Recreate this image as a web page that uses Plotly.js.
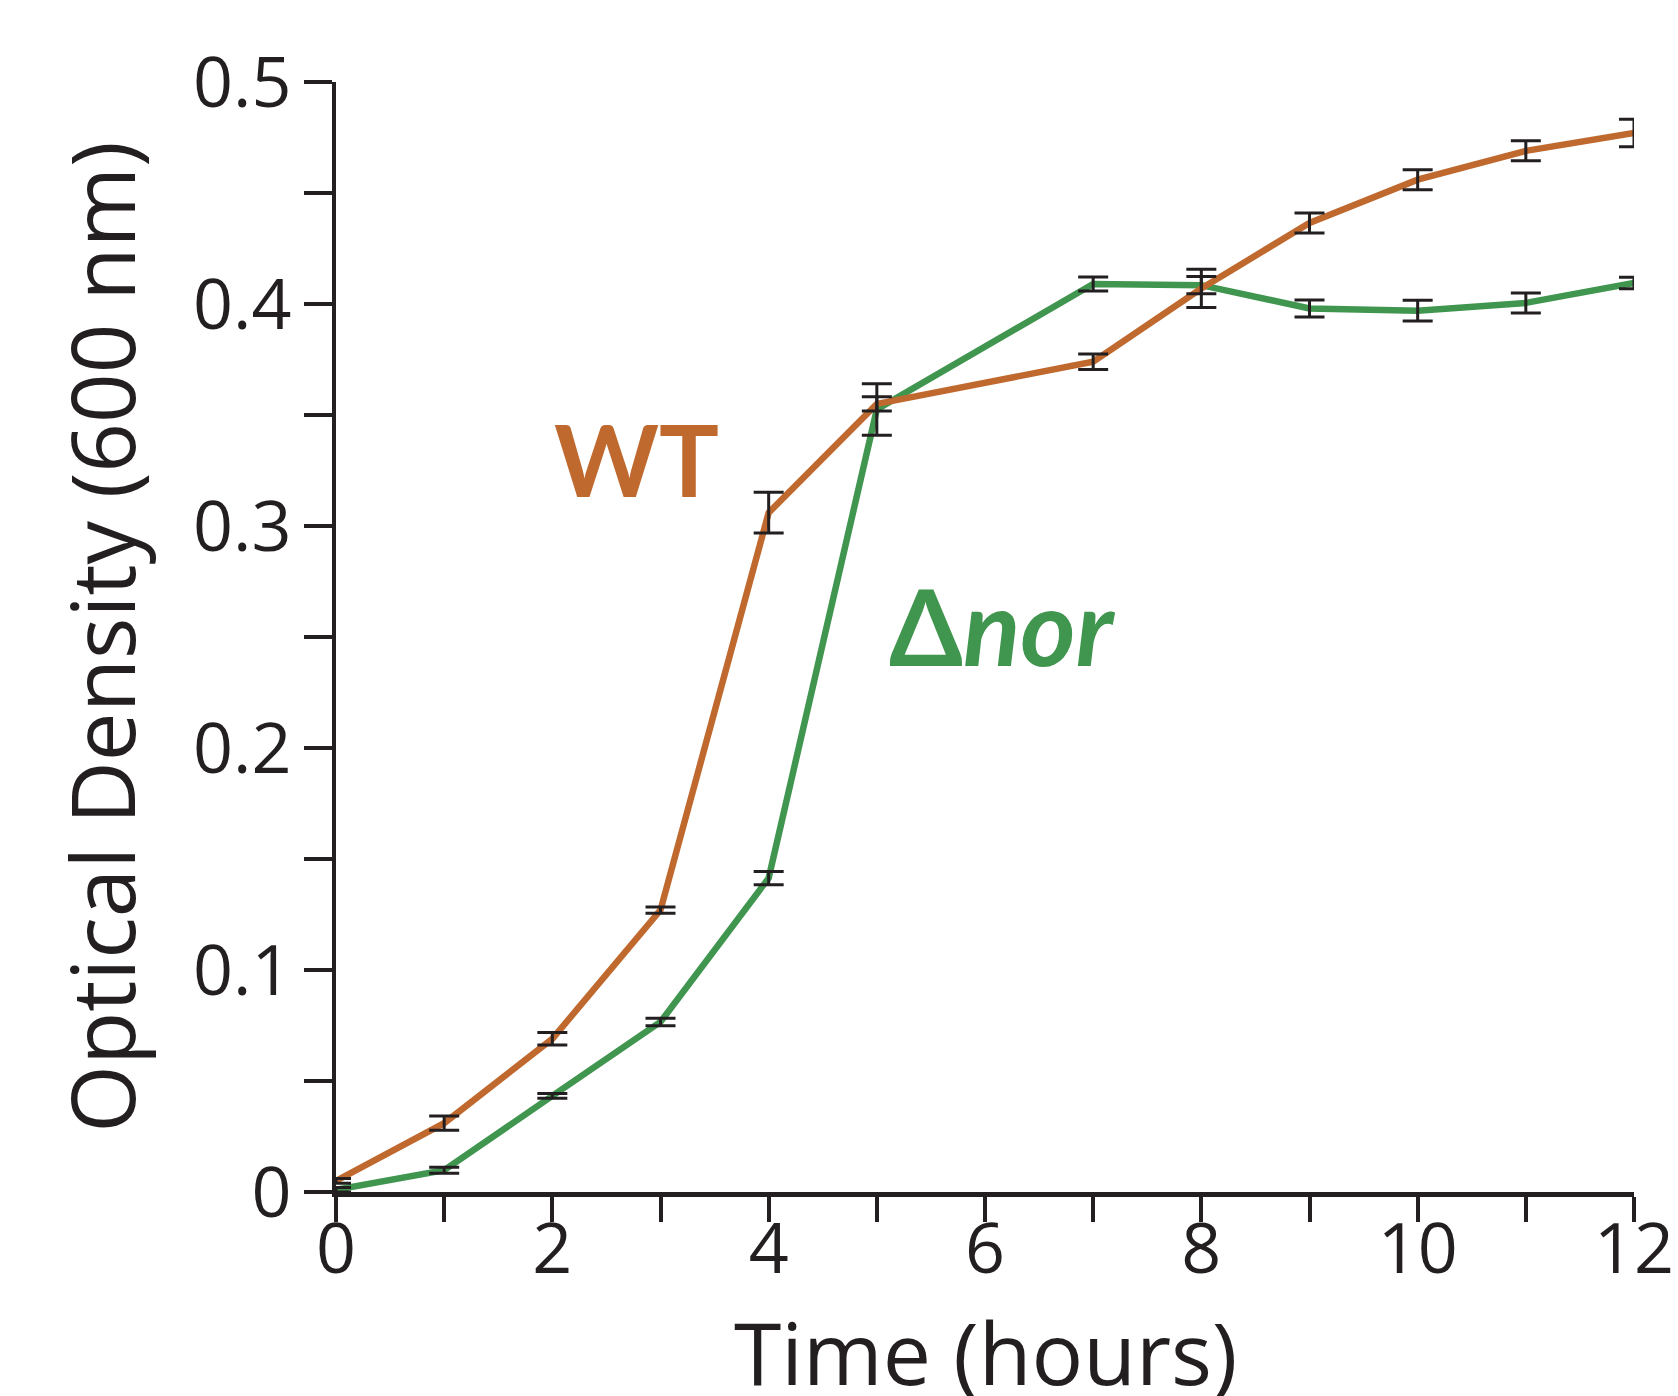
<!DOCTYPE html>
<html>
<head>
<meta charset="utf-8">
<script src="https://cdn.plot.ly/plotly-3.0.1.min.js"></script>
<style>html,body{margin:0;padding:0;background:#fff;}#chart{width:1678px;height:1396px;}</style>
</head>
<body>
<div id="chart"></div>
<script>
// Time points (hours)
const hours = [0, 1, 2, 3, 4, 5, 7, 8, 9, 10, 11, 12];
// Wild type optical density and error
const wtOD  = [0.005, 0.031, 0.069, 0.127, 0.306, 0.355, 0.374, 0.407, 0.4365, 0.456, 0.469, 0.477];
const wtErr = [0.0011, 0.0032, 0.0028, 0.0014, 0.0092, 0.0032, 0.0035, 0.0086, 0.0045, 0.0045, 0.0045, 0.0062];
// Δnor optical density and error
const norOD  = [0.001, 0.0098, 0.0433, 0.0766, 0.1414, 0.3525, 0.409, 0.4085, 0.398, 0.397, 0.4005, 0.4095];
const norErr = [0.001, 0.0013, 0.0011, 0.0017, 0.003, 0.0116, 0.0032, 0.0039, 0.0038, 0.0047, 0.0045, 0.0026];
// Labels
const seriesNames = ['WT', 'Δnor'];
const xTitle = 'Time (hours)';
const yTitle = 'Optical Density (600 nm)';

const orange = '#C0692F';
const green = '#40954F';
const ink = '#231F20';
const font = '"Open Sans", "Noto Sans", sans-serif';

function errTrace(y, err) {
  return {
    x: hours, y: y, type: 'scatter', mode: 'markers',
    marker: {size: 1, color: 'rgba(0,0,0,0)'},
    error_y: {type: 'data', array: err, visible: true, color: ink, thickness: 3, width: 15},
    cliponaxis: false, hoverinfo: 'skip', showlegend: false
  };
}

const traces = [
  {x: hours, y: norOD, type: 'scatter', mode: 'lines', name: seriesNames[1],
   line: {color: green, width: 6.5}, cliponaxis: false, showlegend: false},
  {x: hours, y: wtOD, type: 'scatter', mode: 'lines', name: seriesNames[0],
   line: {color: orange, width: 6.5}, cliponaxis: false, showlegend: false},
  errTrace(norOD, norErr),
  errTrace(wtOD, wtErr)
];

const layout = {
  width: 1678, height: 1396,
  margin: {l: 336, r: 44, t: 82, b: 204},
  paper_bgcolor: '#fff', plot_bgcolor: '#fff',
  showlegend: false,
  font: {family: font, color: ink},
  xaxis: {
    range: [0, 12], dtick: 2, tick0: 0,
    showgrid: false, zeroline: false,
    showline: true, linecolor: ink, linewidth: 4.5,
    ticks: 'outside', ticklen: 25, tickwidth: 4, tickcolor: ink,
    minor: {dtick: 1, tick0: 0, ticks: 'outside', ticklen: 25, tickwidth: 4, tickcolor: ink, showgrid: false},
    tickfont: {family: font, size: 70, color: ink},
    ticklabelstandoff: -33,
    automargin: false, fixedrange: true
  },
  yaxis: {
    range: [0, 0.5], dtick: 0.1, tick0: 0,
    showgrid: false, zeroline: false,
    showline: true, linecolor: ink, linewidth: 4.5,
    ticks: 'outside', ticklen: 28, tickwidth: 4, tickcolor: ink,
    minor: {dtick: 0.05, tick0: 0, ticks: 'outside', ticklen: 28, tickwidth: 4, tickcolor: ink, showgrid: false},
    tickfont: {family: font, size: 70, color: ink},
    ticklabelstandoff: -2,
    title: {text: yTitle, font: {family: font, size: 87, color: ink}, standoff: 30},
    automargin: false, fixedrange: true
  },
  annotations: [
    {x: 0.5, y: 0, xref: 'paper', yref: 'paper', text: xTitle, showarrow: false,
     xanchor: 'center', yanchor: 'top', yshift: -99,
     font: {family: font, size: 86, color: ink}},
    {x: 2.774, y: 0.3305, xref: 'x', yref: 'y', text: '<b>' + seriesNames[0] + '</b>', showarrow: false,
     xanchor: 'center', yanchor: 'middle',
     font: {family: 'Lato, "Open Sans", sans-serif', size: 100, color: orange}},
    {x: 6.166, y: 0.2555, xref: 'x', yref: 'y', text: '<b>Δ<i>nor</i></b>', showarrow: false,
     xanchor: 'center', yanchor: 'middle',
     font: {family: 'Lato, "Open Sans", sans-serif', size: 106, color: green}}
  ]
};

Plotly.newPlot('chart', traces, layout, {displayModeBar: false, staticPlot: true});
</script>
</body>
</html>
